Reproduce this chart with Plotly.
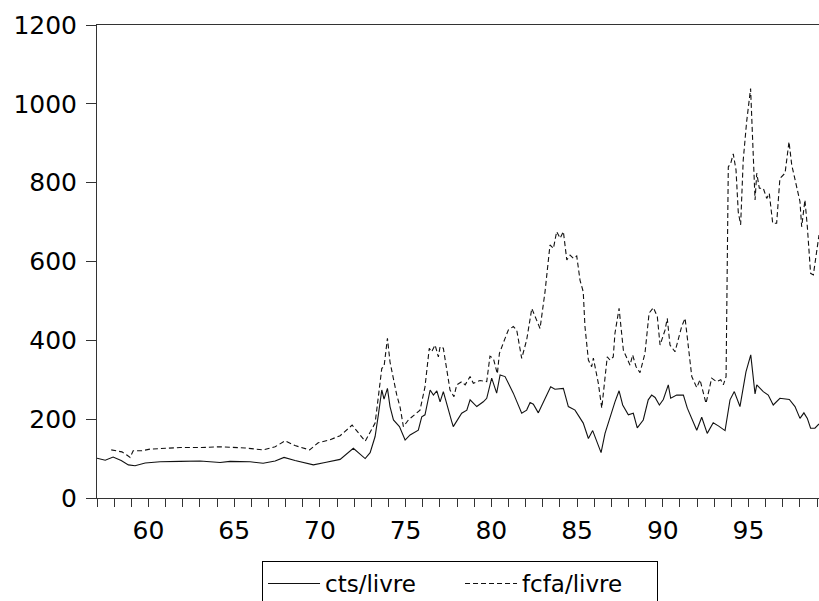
import plotly.graph_objects as go

# ---- data (decimal years) ----
cts_years = [1957.0, 1957.48, 1957.94, 1958.41, 1958.83, 1959.22, 1959.81, 1960.68, 1961.85, 1963.01,
             1964.18, 1964.76, 1965.93, 1966.69, 1967.39, 1967.91, 1968.55, 1969.14, 1969.62, 1970.3,
             1971.18, 1971.95, 1972.64, 1972.93, 1973.22, 1973.41, 1973.61, 1973.74, 1973.94, 1974.09,
             1974.29, 1974.64, 1974.97, 1975.26, 1975.74, 1975.94, 1976.13, 1976.43, 1976.62, 1976.82,
             1977.01, 1977.2, 1977.4, 1977.69, 1977.78, 1978.27, 1978.57, 1978.76, 1979.15, 1979.53,
             1979.73, 1980.02, 1980.31, 1980.51, 1980.8, 1981.28, 1981.77, 1982.06, 1982.26, 1982.45,
             1982.74, 1983.13, 1983.46, 1983.71, 1984.2, 1984.49, 1984.88, 1985.36, 1985.66, 1985.91,
             1986.4, 1986.63, 1986.92, 1987.21, 1987.45, 1987.66, 1987.99, 1988.28, 1988.51, 1988.86,
             1989.15, 1989.35, 1989.55, 1989.8, 1990.03, 1990.32, 1990.46, 1990.81, 1991.2, 1991.43,
             1991.98, 1992.27, 1992.59, 1992.94, 1993.24, 1993.63, 1993.92, 1994.17, 1994.5, 1994.85,
             1995.13, 1995.38, 1995.48, 1995.86, 1996.15, 1996.44, 1996.83, 1997.38, 1997.71, 1998.0,
             1998.23, 1998.43, 1998.62, 1998.87, 1999.11]
cts_values = [101, 96, 104, 95, 84, 82, 89, 92, 93, 94,
              90, 93, 92, 88, 94, 103, 95, 90, 84, 90,
              98, 126, 100, 115, 156, 211, 274, 251, 278, 232,
              198, 181, 147, 160, 172, 206, 211, 274, 261, 272,
              244, 270, 236, 194, 181, 215, 223, 249, 232, 244,
              253, 304, 266, 312, 308, 266, 215, 223, 242, 238,
              216, 253, 282, 276, 278, 232, 223, 190, 151, 171,
              115, 164, 206, 244, 272, 236, 211, 215, 178, 198,
              249, 261, 255, 236, 250, 287, 253, 261, 261, 228,
              172, 205, 164, 191, 183, 171, 249, 270, 232, 320,
              363, 264, 287, 270, 261, 236, 253, 250, 232, 202,
              216, 202, 177, 177, 188]

fcfa_years = [1957.83, 1958.45, 1958.74, 1958.93, 1959.11, 1959.62, 1960.1, 1961.85, 1963.11, 1964.18,
              1965.64, 1966.69, 1967.39, 1967.97, 1968.55, 1969.4, 1969.9, 1970.6, 1971.18, 1971.88,
              1972.64, 1972.93, 1973.22, 1973.41, 1973.61, 1973.74, 1973.94, 1974.09, 1974.25, 1974.48,
              1974.68, 1974.87, 1975.16, 1975.55, 1975.84, 1976.13, 1976.38, 1976.52, 1976.72, 1976.91,
              1977.01, 1977.2, 1977.4, 1977.59, 1977.82, 1977.98, 1978.27, 1978.47, 1978.76, 1978.95,
              1979.34, 1979.73, 1979.92, 1980.12, 1980.35, 1980.47, 1980.8, 1980.99, 1981.28, 1981.48,
              1981.77, 1982.06, 1982.36, 1982.84, 1983.13, 1983.42, 1983.62, 1983.81, 1984.01, 1984.2,
              1984.4, 1984.59, 1984.78, 1984.98, 1985.17, 1985.36, 1985.46, 1985.66, 1985.85, 1985.95,
              1986.24, 1986.44, 1986.76, 1986.92, 1987.11, 1987.21, 1987.45, 1987.7, 1988.09, 1988.24,
              1988.44, 1988.67, 1988.96, 1989.2, 1989.45, 1989.68, 1989.84, 1990.13, 1990.26, 1990.42,
              1990.71, 1991.1, 1991.3, 1991.49, 1991.69, 1991.98, 1992.17, 1992.52, 1992.85, 1993.14,
              1993.38, 1993.53, 1993.69, 1993.82, 1993.96, 1994.11, 1994.27, 1994.4, 1994.54, 1994.69,
              1994.89, 1995.12, 1995.24, 1995.38, 1995.48, 1995.63, 1995.86, 1996.06, 1996.21, 1996.41,
              1996.64, 1996.83, 1997.13, 1997.36, 1997.52, 1997.77, 1998.0, 1998.1, 1998.29, 1998.43,
              1998.62, 1998.78, 1999.11]
fcfa_values = [122, 117, 109, 103, 120, 120, 124, 128, 128, 130,
               127, 122, 130, 145, 133, 122, 140, 148, 158, 185,
               144, 168, 190, 257, 329, 333, 405, 345, 312, 262,
               230, 181, 198, 211, 223, 282, 380, 371, 388, 358,
               384, 380, 325, 274, 257, 287, 295, 287, 308, 291,
               298, 295, 360, 354, 315, 367, 405, 426, 435, 426,
               354, 401, 481, 430, 523, 642, 633, 676, 659, 676,
               604, 616, 608, 614, 553, 523, 435, 350, 333, 355,
               291, 228, 358, 350, 358, 418, 481, 375, 337, 363,
               333, 318, 367, 469, 483, 460, 388, 426, 456, 388,
               371, 435, 456, 375, 308, 280, 300, 240, 304, 295,
               300, 287, 308, 840, 849, 873, 832, 726, 693, 857,
               955, 1039, 925, 756, 824, 786, 786, 760, 773, 697,
               697, 811, 824, 904, 845, 794, 752, 688, 756, 688,
               570, 566, 667]

x_tick_years = list(range(1957, 2000))
x_tick_labels = [str(y % 100) if y % 5 == 0 else "" for y in x_tick_years]
y_tick_values = [0, 200, 400, 600, 800, 1000, 1200]
y_tick_labels = [str(v) for v in y_tick_values]

FONT = "DejaVu Sans, sans-serif"
FS = 25

fig = go.Figure()
fig.add_trace(go.Scatter(x=cts_years, y=cts_values, mode="lines", name="cts/livre",
                         line=dict(color="#111111", width=1.1)))
fig.add_trace(go.Scatter(x=fcfa_years, y=fcfa_values, mode="lines", name="fcfa/livre",
                         line=dict(color="#111111", width=1.1, dash="5px,3px")))

fig.update_layout(
    width=819, height=601,
    margin=dict(l=97, r=0, t=25, b=103, autoexpand=False),
    paper_bgcolor="white", plot_bgcolor="white",
    font=dict(family=FONT, size=FS, color="black"),
    showlegend=True,
    legend=dict(orientation="h", x=0.5028, xanchor="center", y=-0.1332, yanchor="top",
                bordercolor="black", borderwidth=1, bgcolor="white",
                font=dict(family=FONT, size=23, color="black"),
                itemwidth=52, entrywidth=130, entrywidthmode="pixels",
                tracegroupgap=0),
)
fig.update_xaxes(range=[1957.0, 1999.11], tickmode="array", tickvals=x_tick_years,
                 ticktext=x_tick_labels, ticks="outside", ticklen=8, tickwidth=1,
                 tickcolor="#333", showline=True, linecolor="#333", linewidth=1,
                 mirror=True, showgrid=False, zeroline=False, ticklabelstandoff=2,
                 tickfont=dict(family=FONT, size=FS, color="black"))
fig.update_yaxes(range=[0, 1200], tickmode="array", tickvals=y_tick_values,
                 ticktext=y_tick_labels, ticks="outside", ticklen=10, tickwidth=1,
                 tickcolor="#333", showline=True, linecolor="#333", linewidth=1,
                 showgrid=False, zeroline=False, ticklabelstandoff=4,
                 tickfont=dict(family=FONT, size=FS, color="black"))

fig.write_html("out.html")
